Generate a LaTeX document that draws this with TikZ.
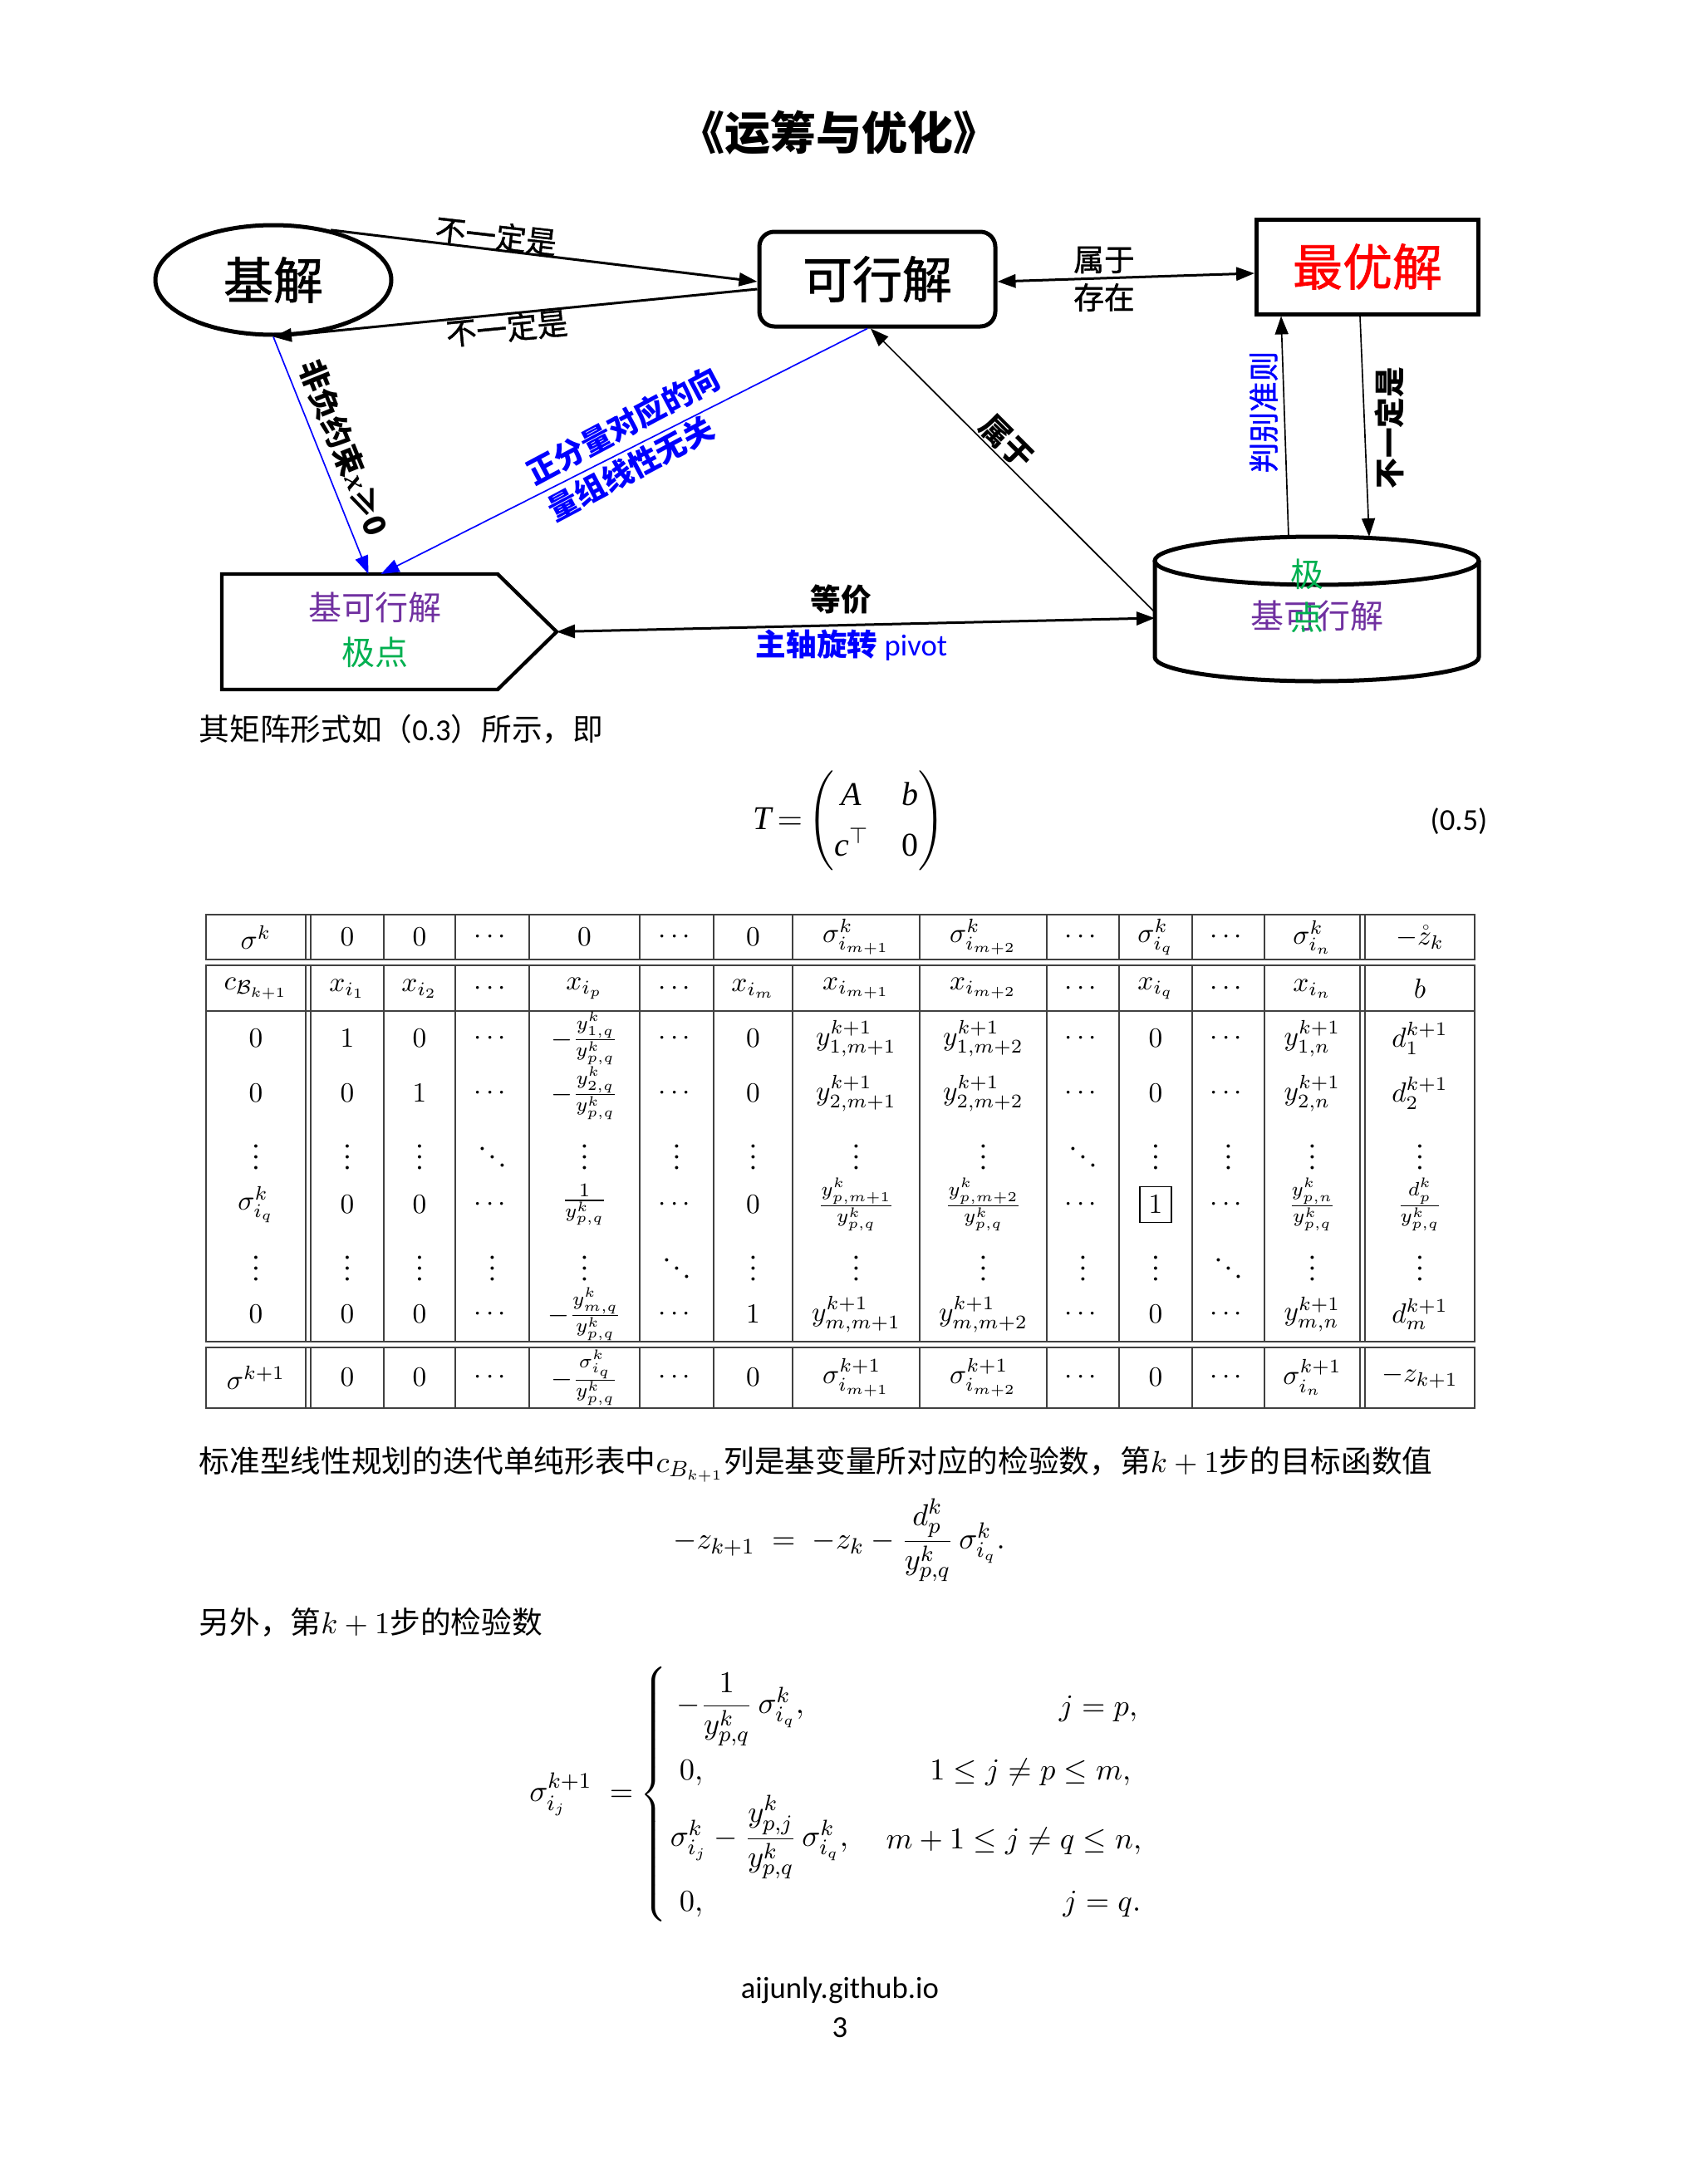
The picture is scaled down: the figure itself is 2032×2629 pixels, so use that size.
\documentclass[tikz,border=0pt]{standalone}
\usepackage{amsmath}
\usepackage{fontspec}
\setmainfont{Liberation Serif}
\newfontfamily\cjk{Noto Sans CJK SC}
\newfontfamily\cjkmid{Noto Sans CJK SC}[FakeBold=1.2]
\newfontfamily\cali{Carlito}
\usetikzlibrary{arrows.meta,shapes.geometric}
\definecolor{lilla}{RGB}{112,48,160}
\definecolor{gronn}{RGB}{0,176,80}
% kolonnesentre i tabellen
\def\kolx{{308,418,505,592.5,703.5,814.5,906.5,1030.5,1183.5,1303.5,1391,1478.5,1579.5,1709}}
\newcommand\tabrad[3]{%
  \foreach \txt [count=\kol from 0] in {#3} {
    \pgfmathsetmacro\xk{\kolx[\kol]}
    \node[celle] (#1-\kol) at (\xk,#2) {\txt};
  }}

\begin{document}
\begin{tikzpicture}
   [
    x=0.3pt, y=-0.3pt,
    >={Triangle[length=6.6pt,width=4.8pt]},
    boks/.style={draw, line width=1.5pt, inner sep=0pt,
                 font=\cjkmid\fontsize{18}{20}\selectfont},
    tom/.style={inner sep=0pt, outer sep=0pt},
    tykkpil/.style={->, line width=0.9pt},
    tynnpil/.style={->, line width=0.5pt},
    merke/.style={font=\cjkmid\fontsize{11}{13}\selectfont, inner sep=0pt},
    fetmerke/.style={font=\cjk\bfseries\fontsize{11}{13}\selectfont, inner sep=0pt},
    inne/.style={font=\cjk\fontsize{12}{14}\selectfont, inner sep=0pt},
    tekst/.style={anchor=base west, font=\cjk\fontsize{11}{13}\selectfont, inner sep=0pt},
    celle/.style={font=\fontsize{10}{12}\selectfont, inner sep=0pt},
    linje/.style={draw=black!75, line width=0.55pt}
    ]

\path[use as bounding box, fill=white] (0,0) rectangle (2032,2629);

\node[font=\cjk\bfseries\fontsize{16.5}{19}\selectfont] (tittel) at (1010,160) {《运筹与优化》};

% boksene
\node[boks, ellipse, minimum width=85.2pt, minimum height=39.6pt] (jieji) at (329,337) {基解};
\node[boks, rounded corners=5.4pt, minimum width=85.2pt, minimum height=34.2pt] (kexing) at (1056,336) {可行解};
\node[boks, minimum width=80.1pt, minimum height=34.2pt, text=red] (zuiyou) at (1646,321) {最优解};
\node[tom, minimum width=117pt, minimum height=52.2pt] (sylinder) at (1585,733) {};
\node[tom, minimum width=120.9pt, minimum height=41.7pt] (jikexing) at (468.5,760.5) {};

% sylinder
\draw[line width=1.5pt] (1585,675) ellipse [x radius=195, y radius=29];
\draw[line width=1.5pt] (1390,675) -- (1390,791)
    arc [start angle=180, end angle=0, x radius=195, y radius=29] -- (1780,675);

% femkant
\draw[line width=1.3pt, line join=miter] (jikexing.north west)
    -- ([xshift=-21.3pt]jikexing.north east) -- (jikexing.east)
    -- ([xshift=-21.3pt]jikexing.south east) -- (jikexing.south west) -- cycle;

\node[inne, text=lilla] (fk1) at (451,731) {基可行解};
\node[inne, text=gronn] (fk2) at (451,785) {极点};
\node[inne, text=lilla] (sy1) at (1585,741) {基可行解};
\node[inne, text=gronn] (sy2) at (1573,691) {极};
\node[inne, text=gronn] (sy3) at (1573,743) {点};

% piler
\draw[tykkpil] (jieji.41) -- ([yshift=-0.9pt]kexing.west);
\draw[tykkpil] ([yshift=-3.6pt]kexing.west) -- (jieji.south);
\draw[tykkpil, <->] ([yshift=-0.9pt]kexing.east) -- ([yshift=-2.4pt]zuiyou.west);
\draw[tynnpil] ([xshift=-2.7pt]zuiyou.south) -- ([xshift=18.9pt]sylinder.north);
\draw[tynnpil] ([xshift=-10.2pt]sylinder.north) -- ([xshift=-31.2pt]zuiyou.south);
\draw[tynnpil, blue] ([xshift=-3.6pt]kexing.south) -- ([xshift=-3pt]jikexing.north);
\draw[tynnpil, blue] (jieji.south) -- ([xshift=-7.5pt]jikexing.north);
\draw[tynnpil] ([yshift=-1.2pt]sylinder.west) -- ([xshift=-2.4pt]kexing.south);
\draw[tykkpil, <->] (jikexing.east) -- ([yshift=-3.3pt]sylinder.west);

% merker
\node[merke, rotate=-6.5] (m1) at (597,284) {不一定是};
\node[merke, rotate=5.5] (m2) at (610,395) {不一定是};
\node[merke] (m3) at (1329,313) {属于};
\node[merke] (m4) at (1329,358) {存在};
\node[fetmerke, rotate=90] (m5) at (1672,515) {不一定是};
\node[merke, rotate=90, text=blue] (m6) at (1521,496) {判别准则};
\node[fetmerke, rotate=28, text=blue] (m7) at (750,512) {正分量对应的向};
\node[fetmerke, rotate=28, text=blue] (m8) at (759,564) {量组线性无关};
\node[fetmerke, rotate=-68] (m9) at (414,539) {非负约束{\rmfamily\itshape x}≥0};
\node[fetmerke, rotate=-45] (m10) at (1212,532) {属于};
\node[fetmerke] (m11) at (1012,722) {等价};
\node[merke, text=blue] (m12) at (1025,777) {{\cjk\bfseries 主轴旋转} {\cali pivot}};

% tekst og matrise
\node[tekst] (tekst1) at (239,891) {其矩阵形式如（{\cali 0.3}）所示，即};
\node[font=\fontsize{12}{14}\selectfont] (matrise) at (1022,988)
   {\renewcommand\arraystretch{1.3}%
    $\textit{T}\,{=}\,\Biggl(\begin{array}{@{}c@{\hspace{12pt}}c@{}}\textit{A} & \textit{b}\\ \textit{c}^{\top} & \textup{0}\end{array}\Biggr)$};
\node[font=\cali\fontsize{11}{13}\selectfont] (nr) at (1756,989) {(0.5)};

% tabellen
\foreach \ya/\yb in {1101/1155, 1162/1615, 1622/1695} {
  \draw[linje] (248,\ya) rectangle (1775,\yb);
  \foreach \x in {368,374,462,548,637,770,859,954,1107,1260,1347,1435,1522,1637,1643}
    \draw[linje] (\x,\ya) -- (\x,\yb);
}
\draw[linje] (248,1217) -- (1775,1217);

\tabrad{a}{1128}{{$\sigma^k$},{$0$},{$0$},{$\cdots$},{$0$},{$\cdots$},{$0$},{$\sigma^k_{i_{m+1}}$},{$\sigma^k_{i_{m+2}}$},{$\cdots$},{$\sigma^k_{i_q}$},{$\cdots$},{$\sigma^k_{i_n}$},{$-\mathring{z}_k$}}
\tabrad{b}{1190}{{$c_{\mathcal{B}_{k+1}}$},{$x_{i_1}$},{$x_{i_2}$},{$\cdots$},{$x_{i_p}$},{$\cdots$},{$x_{i_m}$},{$x_{i_{m+1}}$},{$x_{i_{m+2}}$},{$\cdots$},{$x_{i_q}$},{$\cdots$},{$x_{i_n}$},{$b$}}
\tabrad{c}{1250}{{$0$},{$1$},{$0$},{$\cdots$},{$-\frac{y^k_{1,q}}{y^k_{p,q}}$},{$\cdots$},{$0$},{$y^{k+1}_{1,m+1}$},{$y^{k+1}_{1,m+2}$},{$\cdots$},{$0$},{$\cdots$},{$y^{k+1}_{1,n}$},{$d^{k+1}_1$}}
\tabrad{d}{1316}{{$0$},{$0$},{$1$},{$\cdots$},{$-\frac{y^k_{2,q}}{y^k_{p,q}}$},{$\cdots$},{$0$},{$y^{k+1}_{2,m+1}$},{$y^{k+1}_{2,m+2}$},{$\cdots$},{$0$},{$\cdots$},{$y^{k+1}_{2,n}$},{$d^{k+1}_2$}}
\tabrad{e}{1383}{{$\vdots$},{$\vdots$},{$\vdots$},{$\ddots$},{$\vdots$},{$\vdots$},{$\vdots$},{$\vdots$},{$\vdots$},{$\ddots$},{$\vdots$},{$\vdots$},{$\vdots$},{$\vdots$}}
\tabrad{f}{1450}{{$\sigma^k_{i_q}$},{$0$},{$0$},{$\cdots$},{$\frac{1}{y^k_{p,q}}$},{$\cdots$},{$0$},{$\frac{y^k_{p,m+1}}{y^k_{p,q}}$},{$\frac{y^k_{p,m+2}}{y^k_{p,q}}$},{$\cdots$},{$\boxed{1}$},{$\cdots$},{$\frac{y^k_{p,n}}{y^k_{p,q}}$},{$\frac{d^k_p}{y^k_{p,q}}$}}
\tabrad{g}{1517}{{$\vdots$},{$\vdots$},{$\vdots$},{$\vdots$},{$\vdots$},{$\ddots$},{$\vdots$},{$\vdots$},{$\vdots$},{$\vdots$},{$\vdots$},{$\ddots$},{$\vdots$},{$\vdots$}}
\tabrad{h}{1582}{{$0$},{$0$},{$0$},{$\cdots$},{$-\frac{y^k_{m,q}}{y^k_{p,q}}$},{$\cdots$},{$1$},{$y^{k+1}_{m,m+1}$},{$y^{k+1}_{m,m+2}$},{$\cdots$},{$0$},{$\cdots$},{$y^{k+1}_{m,n}$},{$d^{k+1}_m$}}
\tabrad{i}{1658}{{$\sigma^{k+1}$},{$0$},{$0$},{$\cdots$},{$-\frac{\sigma^k_{i_q}}{y^k_{p,q}}$},{$\cdots$},{$0$},{$\sigma^{k+1}_{i_{m+1}}$},{$\sigma^{k+1}_{i_{m+2}}$},{$\cdots$},{$0$},{$\cdots$},{$\sigma^{k+1}_{i_n}$},{$-z_{k+1}$}}

% formler
\node[tekst] (tekst2) at (239,1772) {标准型线性规划的迭代单纯形表中$c_{B_{k+1}}$列是基变量所对应的检验数，第$k+1$步的目标函数值};
\node[font=\fontsize{11}{13}\selectfont, anchor=mid] (formel1) at (1010,1857)
   {$-z_{k+1} \;=\; -z_k - \dfrac{d_p^k}{y_{p,q}^k}\,\sigma_{i_q}^k.$};
\node[tekst] (tekst3) at (239,1966) {另外，第$k+1$步的检验数};

\node[font=\fontsize{11}{13}\selectfont] (venstre) at (675,2160) {$\sigma_{i_j}^{k+1}$};
\node[font=\fontsize{11}{13}\selectfont] (lik) at (748,2162) {$=$};
\node[font=\fontsize{11}{13}\selectfont] (klamme) at (789,2160) {$\left\{\vrule height 42.5pt depth 42.5pt width 0pt\right.$};
\node[font=\fontsize{11}{13}\selectfont, anchor=mid west] (v1) at (803,2055) {$-\dfrac{1}{y_{p,q}^{k}}\,\sigma_{i_q}^{k},$};
\node[font=\fontsize{11}{13}\selectfont, anchor=mid west] (v2) at (806,2135) {$0,$};
\node[font=\fontsize{11}{13}\selectfont, anchor=mid west] (v3) at (795,2215) {$\sigma_{i_j}^{k}-\dfrac{y_{p,j}^{k}}{y_{p,q}^{k}}\,\sigma_{i_q}^{k},$};
\node[font=\fontsize{11}{13}\selectfont, anchor=mid west] (v4) at (806,2293) {$0,$};
\node[font=\fontsize{11}{13}\selectfont, anchor=mid east] (h1) at (1381,2058) {$j=p,$};
\node[font=\fontsize{11}{13}\selectfont, anchor=mid east] (h2) at (1373,2135) {$1\le j\ne p\le m,$};
\node[font=\fontsize{11}{13}\selectfont, anchor=mid east] (h3) at (1386,2218) {$m+1\le j\ne q\le n,$};
\node[font=\fontsize{11}{13}\selectfont, anchor=mid east] (h4) at (1385,2293) {$j=q.$};

% bunntekst
\node[font=\cali\fontsize{11}{13}\selectfont] (fot1) at (1011,2396) {aijunly.github.io};
\node[font=\cali\fontsize{11}{13}\selectfont] (fot2) at (1011,2441) {3};

\end{tikzpicture}
\end{document}
